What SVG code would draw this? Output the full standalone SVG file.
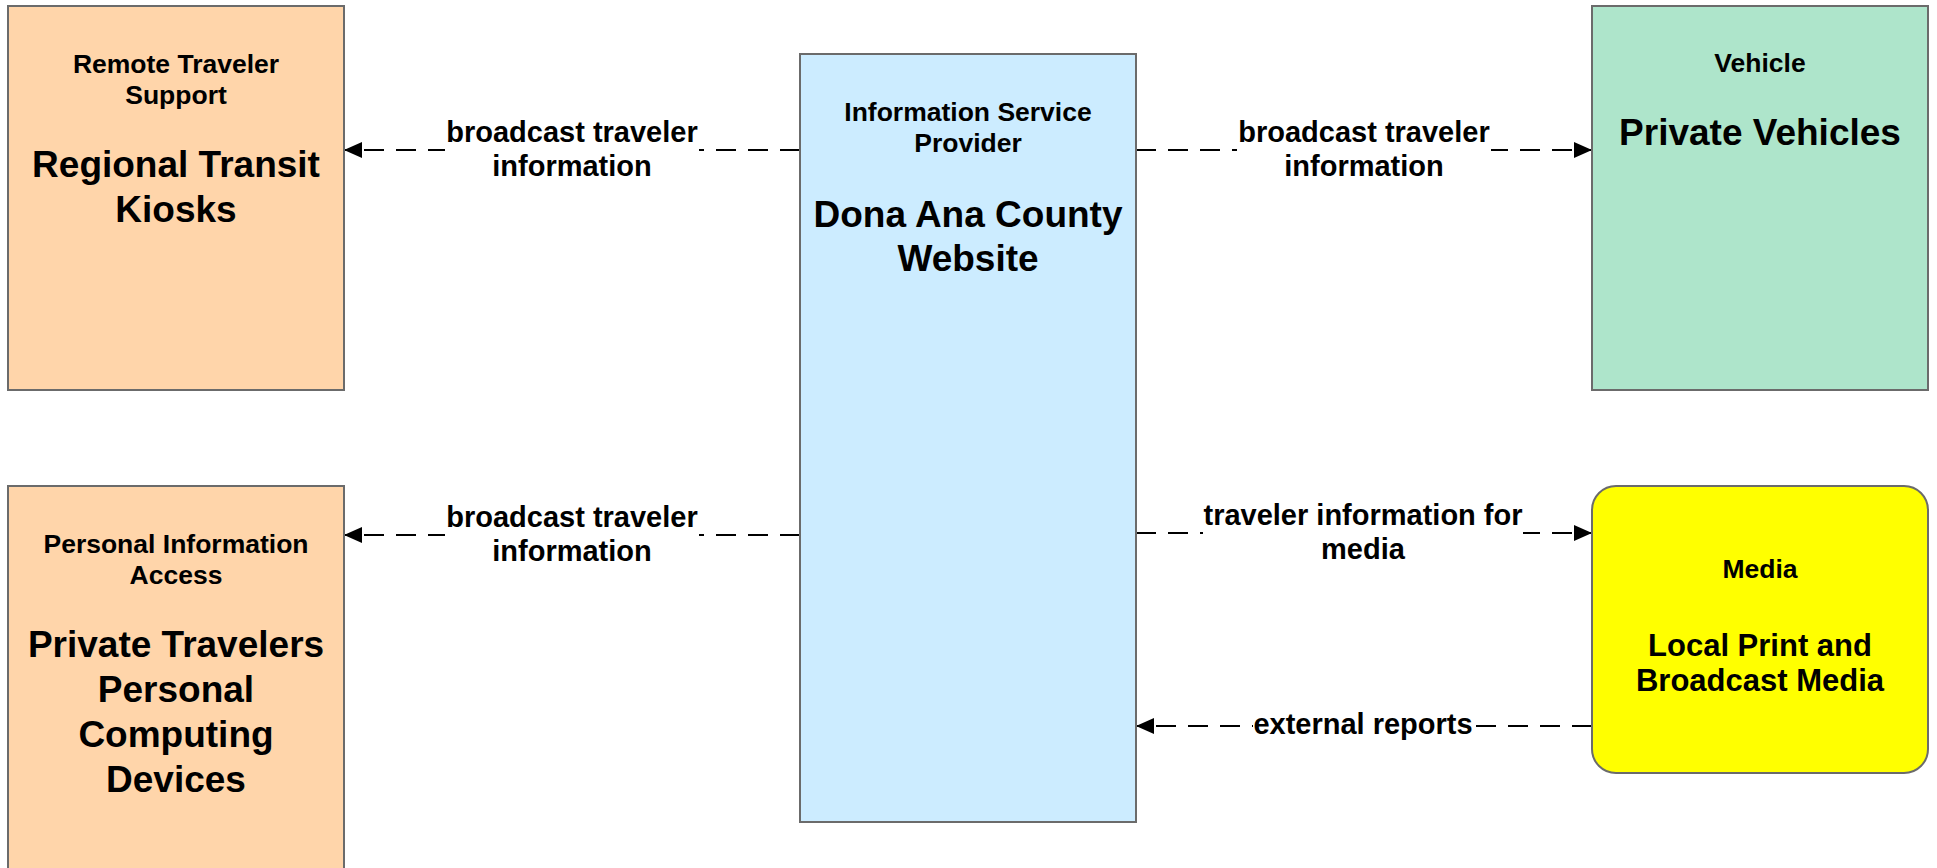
<svg xmlns="http://www.w3.org/2000/svg" width="1937" height="868" viewBox="0 0 1937 868">
<style>
.box{stroke:#6b6b6b;stroke-width:2}
.t{font-family:"Liberation Sans",Arial,sans-serif;font-weight:bold;fill:#000;text-anchor:middle}
.s{font-size:26.5px}
.b{font-size:37px}
.m{font-size:31px}
.l{font-size:29px}
.c{stroke:#000;stroke-width:2.2;stroke-dasharray:20 12;fill:none}
.bg{fill:#fff}
</style>
<defs>
<marker id="ah" viewBox="0 0 18 16" refX="18" refY="8" markerWidth="18" markerHeight="16" markerUnits="userSpaceOnUse" orient="auto">
<path d="M0,0 L18,8 L0,16 Z" fill="#000"/>
</marker>
</defs>
<rect width="1937" height="868" fill="#fff"/>
<g id="connectors">
<line class="c" x1="800" y1="150" x2="344" y2="150" marker-end="url(#ah)"/>
<line class="c" x1="1136" y1="150" x2="1592" y2="150" marker-end="url(#ah)"/>
<line class="c" x1="800" y1="535" x2="344" y2="535" marker-end="url(#ah)"/>
<line class="c" x1="1136" y1="533" x2="1592" y2="533" marker-end="url(#ah)"/>
<line class="c" x1="1592" y1="726" x2="1136" y2="726" marker-end="url(#ah)"/>
<rect class="bg" x="445" y="118" width="254" height="64"/>
<rect class="bg" x="1237" y="118" width="254" height="64"/>
<rect class="bg" x="445" y="503" width="254" height="64"/>
<rect class="bg" x="1203" y="501" width="320" height="64"/>
<rect class="bg" x="1253" y="710" width="220" height="30"/>
<text class="t l" x="572" y="142">broadcast traveler</text>
<text class="t l" x="572" y="176">information</text>
<text class="t l" x="1364" y="142">broadcast traveler</text>
<text class="t l" x="1364" y="176">information</text>
<text class="t l" x="572" y="527">broadcast traveler</text>
<text class="t l" x="572" y="561">information</text>
<text class="t l" x="1363" y="525">traveler information for</text>
<text class="t l" x="1363" y="559">media</text>
<text class="t l" x="1363" y="734">external reports</text>
</g>
<g id="remote-traveler-support">
<rect class="box" x="8" y="6" width="336" height="384" fill="#FFD5AA"/>
<text class="t s" x="176" y="73">Remote Traveler</text>
<text class="t s" x="176" y="104">Support</text>
<text class="t b" x="176" y="177">Regional Transit</text>
<text class="t b" x="176" y="222">Kiosks</text>
</g>
<g id="information-service-provider">
<rect class="box" x="800" y="54" width="336" height="768" fill="#CCECFF"/>
<text class="t s" x="968" y="121">Information Service</text>
<text class="t s" x="968" y="152">Provider</text>
<text class="t b" x="968" y="227">Dona Ana County</text>
<text class="t b" x="968" y="271">Website</text>
</g>
<g id="vehicle">
<rect class="box" x="1592" y="6" width="336" height="384" fill="#AEE5CB"/>
<text class="t s" x="1760" y="72">Vehicle</text>
<text class="t b" x="1760" y="145">Private Vehicles</text>
</g>
<g id="personal-information-access">
<rect class="box" x="8" y="486" width="336" height="400" fill="#FFD5AA"/>
<text class="t s" x="176" y="553">Personal Information</text>
<text class="t s" x="176" y="584">Access</text>
<text class="t b" x="176" y="657">Private Travelers</text>
<text class="t b" x="176" y="702">Personal</text>
<text class="t b" x="176" y="747">Computing</text>
<text class="t b" x="176" y="792">Devices</text>
</g>
<g id="media">
<rect class="box" x="1592" y="486" width="336" height="287" rx="24" ry="24" fill="#FFFF00"/>
<text class="t s" x="1760" y="578">Media</text>
<text class="t m" x="1760" y="656">Local Print and</text>
<text class="t m" x="1760" y="691">Broadcast Media</text>
</g>
</svg>
